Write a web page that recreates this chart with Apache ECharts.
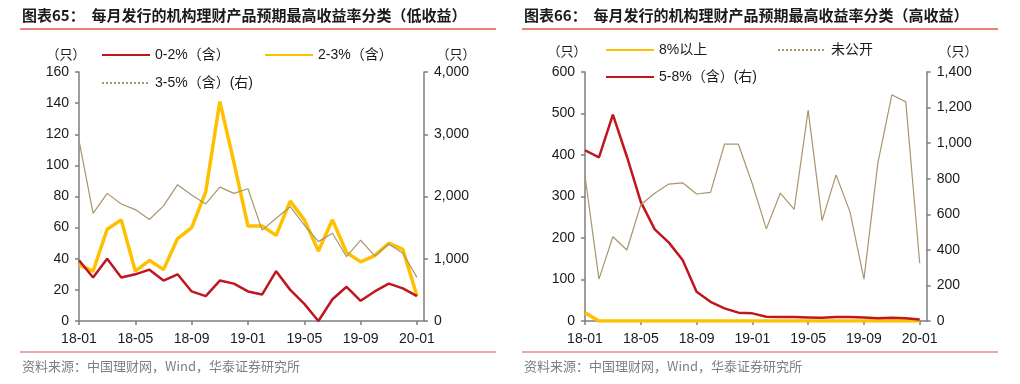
<!DOCTYPE html>
<html><head><meta charset="utf-8">
<script src="https://cdn.jsdelivr.net/npm/echarts@6/dist/echarts.min.js"></script>
<style>html,body{margin:0;padding:0;background:#fff}#c{width:1020px;height:384px}</style>
</head><body><div id="c"></div>
<script>
const months = ['18-01','18-02','18-03','18-04','18-05','18-06','18-07','18-08','18-09','18-10','18-11','18-12','19-01','19-02','19-03','19-04','19-05','19-06','19-07','19-08','19-09','19-10','19-11','19-12','20-01'];
// left chart (low yield)
const low02 = [39,28,40,28,30,33,26,30,19,16,26,24,19,17,32,20,11,0,14,22,13,19,24,21,16];
const low23 = [36,32,59,65,32,39,33,53,60,83,141,102,61,61,55,77,65,45,65,44,38,42,50,46,16];
const low35 = [2900,1730,2050,1880,1790,1630,1850,2190,2025,1880,2150,2050,2125,1460,1650,1836,1542,1275,1410,1033,1300,1045,1237,1088,700];
// right chart (high yield)
const hi8 = [20,0,0,0,0,0,0,0,0,0,0,0,0,0,0,0,0,0,0,0,0,0,0,0,0];
const hiUndisclosed = [350,101,203,171,280,308,330,333,306,310,426,426,330,222,308,269,508,242,352,263,101,381,545,528,139];
const hi58 = [960,920,1160,925,670,515,442,343,165,108,71,47,43,24,22,22,20,18,22,22,20,15,18,15,8];
const labelIdx = [0,4,8,12,16,20,24];

const RED = '#C0161E', YEL = '#FFC000', OLV = '#A8966C';
const FONT = '"Liberation Sans", Arial, "Noto Sans CJK SC", sans-serif';
const TXT = '#1a1a1a';
const AX = '#7f7f7f';
const pts = arr => arr.map((v, i) => [i, v]);

function xAxis(gi) {
  return {
    type: 'value', gridIndex: gi, min: 0, max: 24.5, interval: 4,
    axisLine: {lineStyle: {color: AX, width: 1.5}},
    axisTick: {show: true, length: 4, lineStyle: {color: AX, width: 1.5}, customValues: labelIdx},
    axisLabel: {customValues: labelIdx, formatter: v => months[v] || '', color: TXT, fontSize: 14, fontFamily: FONT, margin: 11},
    splitLine: {show: false}
  };
}
function yAxis(gi, pos, max, interval) {
  return {
    type: 'value', gridIndex: gi, position: pos, min: 0, max: max, interval: interval,
    axisLine: {show: true, lineStyle: {color: AX, width: 1.5}},
    axisTick: {show: true, length: 4, lineStyle: {color: AX, width: 1.5}},
    axisLabel: {color: TXT, fontSize: 14, fontFamily: FONT, margin: 10},
    splitLine: {show: false}
  };
}
function leg(name, left, top, dotted) {
  const d = {name: name};
  if (dotted) d.lineStyle = {type: 'dotted'};
  return {
    data: [d], left: left, top: top, itemWidth: 48, itemHeight: 14, padding: 0,
    itemStyle: {opacity: 0, borderWidth: 0},
    textStyle: {color: TXT, fontSize: 14, fontFamily: FONT}, selectedMode: false
  };
}

const chart = echarts.init(document.getElementById('c'), null, {renderer: 'canvas'});
const titleStyle = {fontSize: 15, fontWeight: 'bold', fill: '#1a1a1a', fontFamily: '"Noto Sans CJK SC", sans-serif'};
const srcStyle = {fontSize: 13, fill: '#7f7f7f', fontFamily: '"Noto Sans CJK SC", sans-serif'};
const unitStyle = {fontSize: 13, fill: TXT, fontFamily: '"Noto Sans CJK SC", sans-serif', align: 'center', verticalAlign: 'middle'};

chart.setOption({
  animation: false,
  grid: [
    {left: 79, top: 72, width: 345, height: 249},
    {left: 585, top: 72, width: 341.7, height: 249}
  ],
  xAxis: [xAxis(0), xAxis(1)],
  yAxis: [
    yAxis(0, 'left', 160, 20), yAxis(0, 'right', 4000, 1000),
    yAxis(1, 'left', 600, 100), yAxis(1, 'right', 1400, 200)
  ],
  legend: [
    leg('0-2%（含）', 101, 48, false),
    leg('2-3%（含）', 264, 48, false),
    leg('3-5%（含）(右)', 101, 76, true),
    leg('8%以上', 605, 43, false),
    leg('未公开', 777, 43, true),
    leg('5-8%（含）(右)', 605, 70, false)
  ],
  series: [
    {name: '0-2%（含）', type: 'line', xAxisIndex: 0, yAxisIndex: 0, data: pts(low02), symbol: 'none', lineStyle: {color: RED, width: 2.5}, itemStyle: {color: RED}, z: 3},
    {name: '2-3%（含）', type: 'line', xAxisIndex: 0, yAxisIndex: 0, data: pts(low23), symbol: 'none', lineStyle: {color: YEL, width: 3.5}, itemStyle: {color: YEL}, z: 2},
    {name: '3-5%（含）(右)', type: 'line', xAxisIndex: 0, yAxisIndex: 1, data: pts(low35), symbol: 'none', lineStyle: {color: OLV, width: 1.2}, itemStyle: {color: OLV}, z: 4},
    {name: '8%以上', type: 'line', xAxisIndex: 1, yAxisIndex: 2, data: pts(hi8), symbol: 'none', lineStyle: {color: YEL, width: 3.5}, itemStyle: {color: YEL}, z: 2},
    {name: '未公开', type: 'line', xAxisIndex: 1, yAxisIndex: 2, data: pts(hiUndisclosed), symbol: 'none', lineStyle: {color: OLV, width: 1.2}, itemStyle: {color: OLV}, z: 4},
    {name: '5-8%（含）(右)', type: 'line', xAxisIndex: 1, yAxisIndex: 3, data: pts(hi58), symbol: 'none', lineStyle: {color: RED, width: 2.5}, itemStyle: {color: RED}, z: 3}
  ],
  graphic: [
    {type: 'text', left: 22, top: 8, style: Object.assign({text: '图表65：  每月发行的机构理财产品预期最高收益率分类（低收益）'}, titleStyle)},
    {type: 'text', left: 524, top: 8, style: Object.assign({text: '图表66：  每月发行的机构理财产品预期最高收益率分类（高收益）'}, titleStyle)},
    {type: 'line', shape: {x1: 20, y1: 29, x2: 496, y2: 29}, style: {stroke: '#E8817A', lineWidth: 2}},
    {type: 'line', shape: {x1: 522, y1: 29, x2: 998, y2: 29}, style: {stroke: '#E8817A', lineWidth: 2}},
    {type: 'line', shape: {x1: 20, y1: 352, x2: 496, y2: 352}, style: {stroke: '#D9534F', lineWidth: 1}},
    {type: 'line', shape: {x1: 522, y1: 352, x2: 998, y2: 352}, style: {stroke: '#D9534F', lineWidth: 1}},
    {type: 'text', left: 22, top: 360, style: Object.assign({text: '资料来源：中国理财网，Wind，华泰证券研究所'}, srcStyle)},
    {type: 'text', left: 524, top: 360, style: Object.assign({text: '资料来源：中国理财网，Wind，华泰证券研究所'}, srcStyle)},
    {type: 'text', x: 66, y: 54, style: Object.assign({text: '（只）'}, unitStyle)},
    {type: 'text', x: 456, y: 54, style: Object.assign({text: '（只）'}, unitStyle)},
    {type: 'text', x: 567, y: 51, style: Object.assign({text: '（只）'}, unitStyle)},
    {type: 'text', x: 958, y: 51, style: Object.assign({text: '（只）'}, unitStyle)}
  ]
});
</script>
</body></html>
